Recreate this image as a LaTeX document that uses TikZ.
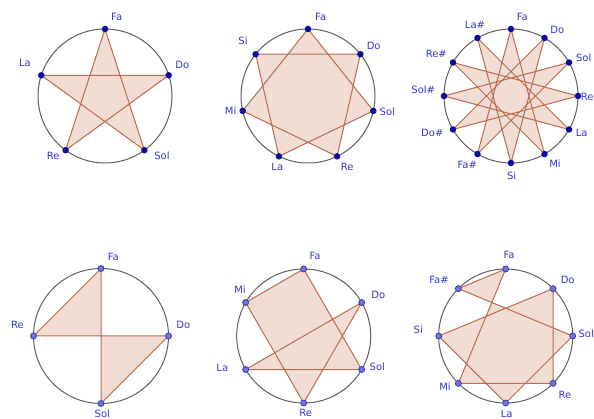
\documentclass[tikz,border=0pt]{standalone}
\usepackage{fontspec}
\setmainfont{DejaVu Sans}
\definecolor{labblue}{RGB}{55,55,205}
\definecolor{ptdark}{RGB}{10,10,165}
\definecolor{ptlight}{RGB}{115,115,220}
\definecolor{ptrim}{RGB}{60,60,170}
\definecolor{ringgray}{RGB}{95,95,95}
\definecolor{starfill}{RGB}{242,221,212}
\definecolor{starline}{RGB}{185,108,78}
\begin{document}
\begin{tikzpicture}[x=1pt,y=-1pt,
  lab/.style={text=labblue,font=\fontsize{10}{12}\selectfont,inner sep=0pt},
  ptA/.style={circle,fill=ptdark,inner sep=0pt,minimum size=6.5pt},
  ptB/.style={circle,fill=ptlight,draw=ptrim,line width=0.8pt,inner sep=0pt,minimum size=6pt},
  ring/.style={draw=ringgray,line width=1pt},
  starpoly/.style={fill=starfill,draw=starline,line width=1pt,line join=round}]
\useasboundingbox (0,0) rectangle (594,419);

% ---------- circle 1: pentagram ----------
\coordinate (o1) at (105,96);
\foreach \n/\a in {Fa/0,Do/72,Sol/144,Re/216,La/288}
  \coordinate (c1\n) at ({105+67*sin(\a)},{96-67*cos(\a)});
\filldraw[starpoly] (c1Fa) -- (c1Sol) -- (c1La) -- (c1Do) -- (c1Re) -- cycle;
\draw[ring] (o1) circle[radius=67];
\foreach \n in {Fa,Do,Sol,Re,La} \node[ptA] (p1\n) at (c1\n) {};
\node[lab] (l1Fa) at (116.7,17) {Fa};
\node[lab] (l1Do) at (182.3,65) {Do};
\node[lab] (l1Sol) at (162,156) {Sol};
\node[lab] (l1Re) at (53.3,155.5) {Re};
\node[lab] (l1La) at (25,63) {La};

% ---------- circle 2: heptagram ----------
\coordinate (o2) at (308,96);
\foreach \n/\k in {Fa/0,Do/1,Sol/2,Re/3,La/4,Mi/5,Si/6}
  \coordinate (c2\n) at ({308+67*sin(360/7*\k)},{96-67*cos(360/7*\k)});
\filldraw[starpoly] (c2Fa) -- (c2Sol) -- (c2La) -- (c2Si) -- (c2Do) -- (c2Re) -- (c2Mi) -- cycle;
\draw[ring] (o2) circle[radius=67];
\foreach \n in {Fa,Do,Sol,Re,La,Mi,Si} \node[ptA] (p2\n) at (c2\n) {};
\node[lab] (l2Fa) at (320.7,17) {Fa};
\node[lab] (l2Do) at (373.7,46) {Do};
\node[lab] (l2Sol) at (387.3,111.7) {Sol};
\node[lab] (l2Re) at (347.3,166.7) {Re};
\node[lab] (l2La) at (277.3,166.7) {La};
\node[lab] (l2Mi) at (230.7,111) {Mi};
\node[lab] (l2Si) at (243,41) {Si};

% ---------- circle 3: 12-pointed star ----------
\coordinate (o3) at (511,96);
\foreach \i in {0,...,11}
  \coordinate (c3n\i) at ({511+67*sin(30*\i)},{96-67*cos(30*\i)});
\filldraw[starpoly] (c3n0) -- (c3n5) -- (c3n10) -- (c3n3) -- (c3n8) -- (c3n1) -- (c3n6)
  -- (c3n11) -- (c3n4) -- (c3n9) -- (c3n2) -- (c3n7) -- cycle;
\draw[ring] (o3) circle[radius=67];
\foreach \i in {0,...,11} \node[ptA] (p3n\i) at (c3n\i) {};
\node[lab] (l3Fa) at (522.3,17) {Fa};
\node[lab] (l3Do) at (557.3,30) {Do};
\node[lab] (l3Sol) at (583.7,57.3) {Sol};
\node[lab,anchor=west] (l3Re) at (580.6,96.7) {Re};
\node[lab] (l3La) at (581.7,133.3) {La};
\node[lab] (l3Mi) at (555,163.3) {Mi};
\node[lab] (l3Si) at (511.7,176) {Si};
\node[lab] (l3Fas) at (467.3,165) {Fa\#};
\node[lab] (l3Dos) at (432.3,133.3) {Do\#};
\node[lab] (l3Sols) at (423.3,89.3) {Sol\#};
\node[lab] (l3Res) at (436.3,54.3) {Re\#};
\node[lab] (l3Las) at (475,25) {La\#};

% ---------- circle 4: square figure ----------
\coordinate (o4) at (101,336);
\foreach \n/\a in {Fa/0,Do/90,Sol/180,Re/270}
  \coordinate (c4\n) at ({101+67.5*sin(\a)},{336-67.5*cos(\a)});
\filldraw[starpoly] (c4Fa) -- (c4Re) -- (c4Do) -- (c4Sol) -- cycle;
\draw[ring] (o4) circle[radius=67.5];
\foreach \n in {Fa,Do,Sol,Re} \node[ptB] (p4\n) at (c4\n) {};
\node[lab] (l4Fa) at (113.3,256.7) {Fa};
\node[lab] (l4Do) at (183.3,325) {Do};
\node[lab] (l4Sol) at (102.3,414) {Sol};
\node[lab] (l4Re) at (17.5,325) {Re};

% ---------- circle 5: hexagon figure ----------
\coordinate (o5) at (303.7,336);
\foreach \n/\a in {Fa/0,Do/60,Sol/120,Re/180,La/240,Mi/300}
  \coordinate (c5\n) at ({303.7+67*sin(\a)},{336-67*cos(\a)});
\filldraw[starpoly] (c5Fa) -- (c5Sol) -- (c5La) -- (c5Do) -- (c5Re) -- (c5Mi) -- cycle;
\draw[ring] (o5) circle[radius=67];
\foreach \n in {Fa,Do,Sol,Re,La,Mi} \node[ptB] (p5\n) at (c5\n) {};
\node[lab] (l5Fa) at (315,255.7) {Fa};
\node[lab] (l5Do) at (378.3,295) {Do};
\node[lab] (l5Sol) at (377.3,366.7) {Sol};
\node[lab] (l5Re) at (305.7,413) {Re};
\node[lab] (l5La) at (222.3,368.3) {La};
\node[lab] (l5Mi) at (240,290) {Mi};

% ---------- circle 6: octagon figure ----------
\coordinate (o6) at (505.7,336);
\foreach \n/\a in {Fa/0,Do/45,Sol/90,Re/135,La/180,Mi/225,Si/270,Fas/315}
  \coordinate (c6\n) at ({505.7+67*sin(\a)},{336-67*cos(\a)});
\filldraw[starpoly] (c6Fa) -- (c6Mi) -- (c6Re) -- (c6Do) -- (c6Si) -- (c6La) -- (c6Sol) -- (c6Fas) -- cycle;
\draw[ring] (o6) circle[radius=67];
\foreach \n in {Fa,Do,Sol,Re,La,Mi,Si,Fas} \node[ptB] (p6\n) at (c6\n) {};
\node[lab] (l6Fa) at (509,255) {Fa};
\node[lab] (l6Do) at (567.7,280) {Do};
\node[lab,anchor=west] (l6Sol) at (578.4,334) {Sol};
\node[lab] (l6Re) at (565,395) {Re};
\node[lab] (l6La) at (506.7,414.3) {La};
\node[lab] (l6Mi) at (445,386.7) {Mi};
\node[lab] (l6Si) at (418.3,330) {Si};
\node[lab] (l6Fas) at (439,280) {Fa\#};
\end{tikzpicture}
\end{document}
